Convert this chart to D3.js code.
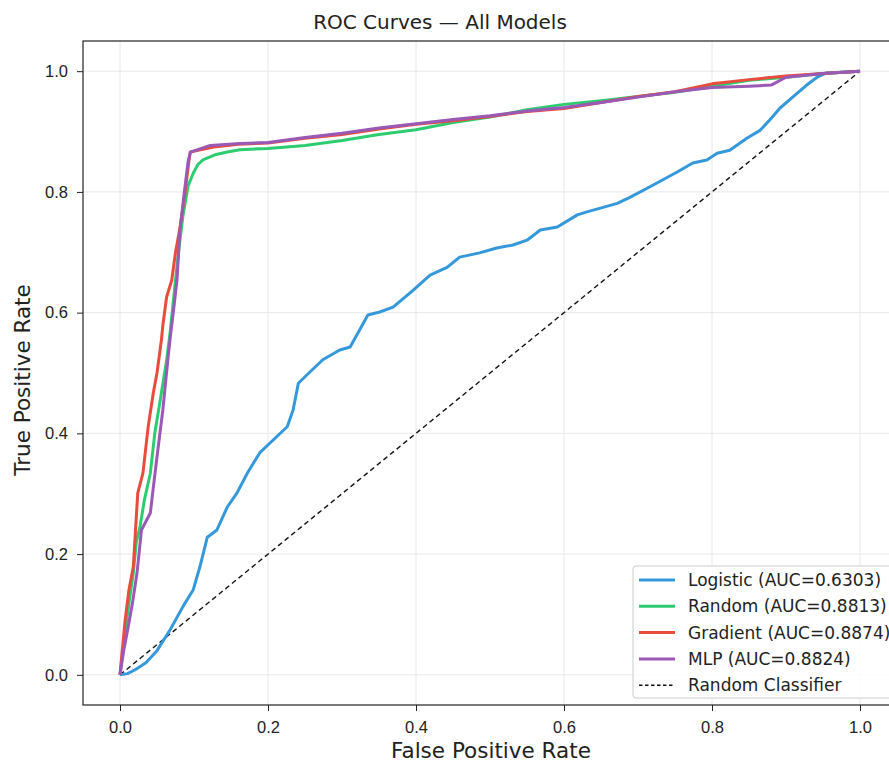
<!DOCTYPE html>
<html>
<head>
<meta charset="utf-8">
<script src="https://cdnjs.cloudflare.com/ajax/libs/d3/7.8.5/d3.min.js"></script>
<style>
  body { margin: 0; background: #fff; }
  svg { font-family: "DejaVu Sans", sans-serif; display: block; }
  .grid line { stroke: #e8e8e8; stroke-width: 1; }
  .axis text { font-size: 16.5px; fill: #222; }
  .axis path, .axis line { stroke: #222; }
</style>
</head>
<body>
<div id="chart"></div>
<script>
// ROC points [fpr, tpr]
let logisticPts = [[0,0],[0.01,0.002],[0.02,0.008],[0.035,0.02],[0.05,0.04],[0.068,0.075],[0.085,0.113],[0.099,0.141],[0.108,0.179],[0.118,0.228],[0.131,0.24],[0.145,0.278],[0.158,0.301],[0.172,0.334],[0.189,0.368],[0.207,0.389],[0.226,0.411],[0.234,0.439],[0.241,0.483],[0.257,0.502],[0.274,0.522],[0.297,0.538],[0.311,0.543],[0.335,0.596],[0.351,0.601],[0.369,0.609],[0.396,0.637],[0.419,0.662],[0.442,0.675],[0.459,0.692],[0.486,0.699],[0.509,0.707],[0.531,0.712],[0.55,0.72],[0.568,0.737],[0.591,0.742],[0.618,0.762],[0.631,0.767],[0.672,0.781],[0.689,0.791],[0.72,0.811],[0.753,0.833],[0.774,0.848],[0.793,0.853],[0.807,0.864],[0.824,0.869],[0.847,0.889],[0.865,0.902],[0.878,0.919],[0.892,0.939],[0.909,0.957],[0.928,0.977],[0.942,0.99],[0.955,0.997],[1,1]];
let randomPts = [[0,0],[0.005,0.05],[0.01,0.1],[0.018,0.169],[0.022,0.22],[0.027,0.245],[0.033,0.29],[0.041,0.334],[0.047,0.4],[0.055,0.46],[0.063,0.521],[0.068,0.57],[0.073,0.63],[0.079,0.7],[0.085,0.76],[0.092,0.81],[0.099,0.831],[0.105,0.845],[0.112,0.853],[0.13,0.862],[0.145,0.866],[0.162,0.87],[0.2,0.872],[0.25,0.877],[0.3,0.885],[0.35,0.895],[0.4,0.903],[0.45,0.915],[0.5,0.924],[0.55,0.936],[0.6,0.945],[0.65,0.951],[0.7,0.958],[0.75,0.965],[0.8,0.975],[0.85,0.985],[0.9,0.99],[0.95,0.996],[1,1]];
let gradientPts = [[0,0],[0.003,0.04],[0.007,0.091],[0.012,0.14],[0.018,0.179],[0.021,0.24],[0.024,0.301],[0.031,0.334],[0.038,0.41],[0.045,0.467],[0.05,0.5],[0.056,0.555],[0.058,0.58],[0.063,0.626],[0.07,0.654],[0.075,0.7],[0.081,0.74],[0.088,0.8],[0.093,0.85],[0.095,0.866],[0.11,0.87],[0.13,0.875],[0.16,0.879],[0.2,0.881],[0.25,0.889],[0.3,0.895],[0.35,0.904],[0.4,0.912],[0.45,0.918],[0.5,0.925],[0.55,0.933],[0.6,0.938],[0.65,0.948],[0.7,0.958],[0.75,0.966],[0.8,0.979],[0.85,0.986],[0.9,0.992],[0.95,0.996],[1,1]];
let mlpPts = [[0,0],[0.005,0.04],[0.011,0.079],[0.017,0.12],[0.023,0.169],[0.029,0.24],[0.041,0.268],[0.045,0.31],[0.05,0.361],[0.058,0.44],[0.065,0.526],[0.068,0.56],[0.072,0.6],[0.077,0.654],[0.081,0.737],[0.087,0.8],[0.092,0.85],[0.095,0.866],[0.11,0.872],[0.122,0.877],[0.162,0.88],[0.2,0.882],[0.25,0.89],[0.3,0.897],[0.35,0.906],[0.4,0.913],[0.45,0.92],[0.5,0.926],[0.55,0.934],[0.6,0.94],[0.65,0.948],[0.7,0.957],[0.75,0.966],[0.8,0.973],[0.85,0.975],[0.88,0.977],[0.9,0.99],[0.95,0.996],[1,1]];

let modelNames = ["Logistic", "Random", "Gradient", "MLP"];
let aucValues = ["0.6303", "0.8813", "0.8874", "0.8824"];
let modelColors = ["#3498db", "#2ecc71", "#e74c3c", "#9b59b6"];
let tickValues = [0, 0.2, 0.4, 0.6, 0.8, 1.0];

let series = [logisticPts, randomPts, gradientPts, mlpPts];

let W = 889, H = 762;
let margin = {top: 41, left: 83, right: -8, bottom: 57};
let width = W - margin.left - margin.right;
let height = H - margin.top - margin.bottom;

let svg = d3.select('#chart').append('svg')
  .attr('width', W).attr('height', H);

let x = d3.scaleLinear().domain([-0.05, 1.05]).range([0, width]);
let y = d3.scaleLinear().domain([-0.05, 1.05]).range([height, 0]);

let g = svg.append('g').attr('transform', 'translate(' + margin.left + ',' + margin.top + ')');

// grid
let grid = g.append('g').attr('class', 'grid');
grid.selectAll('.gx').data(tickValues).enter().append('line')
  .attr('x1', d => x(d)).attr('x2', d => x(d)).attr('y1', 0).attr('y2', height);
grid.selectAll('.gy').data(tickValues).enter().append('line')
  .attr('y1', d => y(d)).attr('y2', d => y(d)).attr('x1', 0).attr('x2', width);

// diagonal
g.append('line')
  .attr('x1', x(0)).attr('y1', y(0)).attr('x2', x(1)).attr('y2', y(1))
  .attr('stroke', '#111').attr('stroke-width', 1.4).attr('stroke-dasharray', '5,3.5');

let line = d3.line().x(d => x(d[0])).y(d => y(d[1]));
series.forEach((pts, i) => {
  g.append('path').datum(pts)
    .attr('d', line)
    .attr('fill', 'none')
    .attr('stroke', modelColors[i])
    .attr('stroke-width', 3)
    .attr('stroke-linejoin', 'round');
});

// frame
g.append('rect').attr('width', width).attr('height', height)
  .attr('fill', 'none').attr('stroke', '#222').attr('stroke-width', 1.2);

let xAxis = g.append('g').attr('class', 'axis')
  .attr('transform', 'translate(0,' + height + ')')
  .call(d3.axisBottom(x).tickValues(tickValues).tickFormat(d3.format('.1f')).tickSize(6).tickPadding(10));
let yAxis = g.append('g').attr('class', 'axis')
  .call(d3.axisLeft(y).tickValues(tickValues).tickFormat(d3.format('.1f')).tickSize(6).tickPadding(9));
xAxis.select('.domain').remove();
yAxis.select('.domain').remove();

// titles
svg.append('text').attr('x', 440).attr('y', 29).attr('text-anchor', 'middle')
  .attr('font-size', 20).attr('fill', '#222').text('ROC Curves — All Models');
svg.append('text').attr('x', 491).attr('y', 758).attr('text-anchor', 'middle')
  .attr('font-size', 21.5).attr('fill', '#222').text('False Positive Rate');
svg.append('text').attr('transform', 'translate(30,' + 380 + ') rotate(-90)')
  .attr('text-anchor', 'middle').attr('font-size', 21.5).attr('fill', '#222').text('True Positive Rate');

// legend
let leg = svg.append('g').attr('transform', 'translate(633,566)');
leg.append('rect').attr('width', 270).attr('height', 132).attr('rx', 3)
  .attr('fill', 'rgba(255,255,255,0.85)').attr('stroke', '#ccc');
let legItems = modelNames.map((n, i) => ({label: n + ' (AUC=' + aucValues[i] + ')', color: modelColors[i], dash: null}));
legItems.push({label: 'Random Classifier', color: '#111', dash: '3.5,2.5'});
legItems.forEach((d, i) => {
  let yy = 14 + i * 26.3;
  leg.append('line').attr('x1', 6).attr('x2', 42).attr('y1', yy).attr('y2', yy)
    .attr('stroke', d.color).attr('stroke-width', d.dash ? 1.4 : 3)
    .attr('stroke-dasharray', d.dash);
  leg.append('text').attr('x', 55).attr('y', yy).attr('dy', '0.35em')
    .attr('font-size', 17).attr('fill', '#222').text(d.label);
});
</script>
</body>
</html>
